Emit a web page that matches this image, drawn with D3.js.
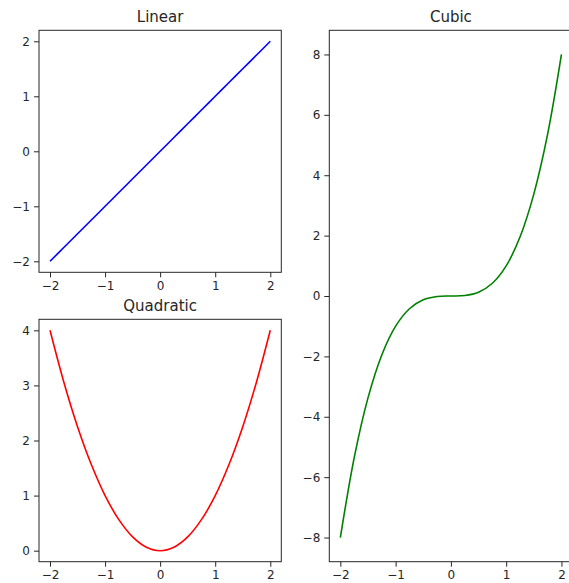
<!DOCTYPE html>
<html>
<head>
<meta charset="utf-8">
<script src="https://cdn.jsdelivr.net/npm/d3@7"></script>
<style>
  html, body { margin: 0; padding: 0; background: #fff; overflow: hidden; }
  svg { display: block; }
  .tick text { font-family: "DejaVu Sans", sans-serif; font-size: 12px; fill: #262626; }
  .title { font-family: "DejaVu Sans", sans-serif; font-size: 15px; fill: #262626; }
</style>
</head>
<body>
<svg id="chart" width="569" height="583"></svg>
<script>
// Sample positions along x
const xValues = [-2, -1.75, -1.5, -1.25, -1, -0.75, -0.5, -0.25, 0, 0.25, 0.5, 0.75, 1, 1.25, 1.5, 1.75, 2];
// Series values
const linearValues = [-2, -1.75, -1.5, -1.25, -1, -0.75, -0.5, -0.25, 0, 0.25, 0.5, 0.75, 1, 1.25, 1.5, 1.75, 2];
const quadraticValues = [4, 3.063, 2.25, 1.563, 1, 0.563, 0.25, 0.063, 0, 0.063, 0.25, 0.563, 1, 1.563, 2.25, 3.063, 4];
const cubicValues = [-8, -5.359, -3.375, -1.953, -1, -0.422, -0.125, -0.016, 0, 0.016, 0.125, 0.422, 1, 1.953, 3.375, 5.359, 8];
// Tick labels
const xTicks = [-2, -1, 0, 1, 2];
const linearTicks = [-2, -1, 0, 1, 2];
const quadraticTicks = [0, 1, 2, 3, 4];
const cubicTicks = [-8, -6, -4, -2, 0, 2, 4, 6, 8];
const titles = ["Linear", "Quadratic", "Cubic"];
const colors = ["#0000ff", "#ff0000", "#008000"];

const svg = d3.select("#chart");
const fmt = d3.format("d");

function panel(box, values, yTicks, title, color) {
  const xDom = [-2.2, 2.2];
  const yExt = d3.extent(values);
  const pad = (yExt[1] - yExt[0]) * 0.05;
  const x = d3.scaleLinear().domain(xDom).range([box.left, box.right]);
  const y = d3.scaleLinear().domain([yExt[0] - pad, yExt[1] + pad]).range([box.bottom, box.top]);
  const g = svg.append("g");

  const line = d3.line()
    .x((d, i) => x(xValues[i]))
    .y(d => y(d))
    .curve(d3.curveCatmullRom.alpha(0.5));
  g.append("path")
    .datum(values)
    .attr("d", line)
    .attr("fill", "none")
    .attr("stroke", color)
    .attr("stroke-width", 1.6)
    .attr("stroke-linejoin", "round");

  g.append("rect")
    .attr("x", box.left).attr("y", box.top)
    .attr("width", box.right - box.left).attr("height", box.bottom - box.top)
    .attr("fill", "none").attr("stroke", "#262626").attr("stroke-width", 1);

  const xa = g.append("g")
    .attr("transform", `translate(0,${box.bottom})`)
    .call(d3.axisBottom(x).tickValues(xTicks).tickFormat(fmt).tickSize(5).tickPadding(4));
  const ya = g.append("g")
    .attr("transform", `translate(${box.left},0)`)
    .call(d3.axisLeft(y).tickValues(yTicks).tickFormat(fmt).tickSize(5).tickPadding(4));
  [xa, ya].forEach(a => {
    a.select(".domain").remove();
    a.selectAll(".tick line").attr("stroke", "#262626").attr("stroke-width", 1);
  });

  g.append("text")
    .attr("class", "title")
    .attr("x", (box.left + box.right) / 2)
    .attr("y", box.top - 8.5)
    .attr("text-anchor", "middle")
    .text(title);
}

panel({ left: 39, right: 281.3, top: 30.3, bottom: 272.3 }, linearValues, linearTicks, titles[0], colors[0]);
panel({ left: 39, right: 281.3, top: 319.3, bottom: 561.7 }, quadraticValues, quadraticTicks, titles[1], colors[1]);
panel({ left: 329.3, right: 572.5, top: 30.3, bottom: 561.7 }, cubicValues, cubicTicks, titles[2], colors[2]);
</script>
</body>
</html>
